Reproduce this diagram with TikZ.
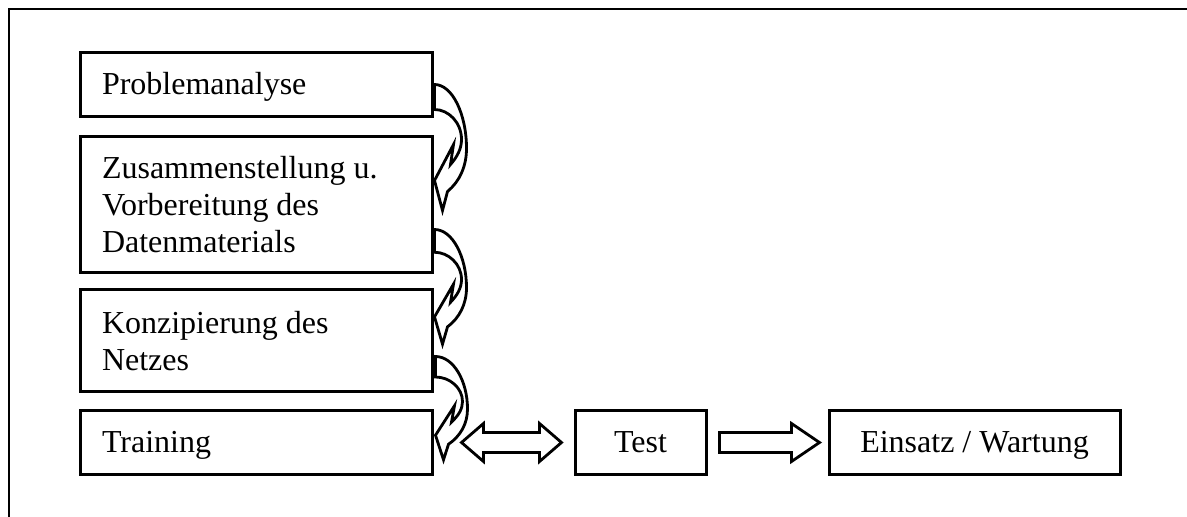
\documentclass[tikz,border=0pt]{standalone}
\usepackage{fontspec}
\setmainfont{Liberation Serif}
\usetikzlibrary{calc}

\begin{document}
\begin{tikzpicture}[x=0.5pt, y=-0.5pt,
    phase/.style={draw, line width=1.5pt, font=\fontsize{16}{18.5}\selectfont},
    leftphase/.style={phase, inner xsep=11pt, text width=154pt, align=flush left},
    oneline/.style={text height=11.5pt, text depth=1.5pt},
    blockarrow/.style={draw, fill=white, line width=1.4pt, line join=miter},
    bend/.pic={
        \draw[blockarrow] (0,0) .. controls (18,0) and (32,30) .. (32,64)
            .. controls (32,82) and (25,97) .. (13,107)
            -- (8,126) -- (0,96) -- (19,60) -- (16,80)
            .. controls (23,72) and (27,64) .. (27,55)
            .. controls (27,38) and (14,25) .. (0,25) -- cycle;
    }]
    \useasboundingbox (0,0) rectangle (1187,517);
    \draw[line width=0.75pt] (9,530) -- (9,9) -- (1200,9);

    \node[leftphase, oneline, minimum height=32pt] (prob)  at (256,85)    {Problemanalyse};
    \node[leftphase, minimum height=68pt]          (daten) at (256,205)   {Zusammenstellung u.\\Vorbereitung des\\Datenmaterials};
    \node[leftphase, minimum height=51pt]          (netz)  at (256,341)   {Konzipierung des\\Netzes};
    \node[leftphase, oneline, minimum height=31.5pt] (train) at (256,442.5) {Training};
    \node[phase, oneline, minimum width=65.5pt, minimum height=31.5pt]  (test)    at (640.5,442.5) {Test};
    \node[phase, oneline, minimum width=145.5pt, minimum height=31.5pt] (einsatz) at (974.5,442.5) {Einsatz / Wartung};

    \pic at ($(prob.south east)+(1,-34)$) {bend};
    \pic[yscale=0.91] at ($(daten.south east)+(1,-45)$) {bend};
    \pic[yscale=0.82] at ($(netz.south east)+(2,-37)$) {bend};

    \draw[blockarrow] ($(train.east)+(28,0)$) -- ++(22,-19) -- ++(0,9) -- ++(56,0)
        -- ++(0,-9) -- ++(22,19) -- ++(-22,19) -- ++(0,-9) -- ++(-56,0) -- ++(0,9) -- cycle;
    \draw[blockarrow] ($(test.east)+(12,0)$) -- ++(0,-10) -- ++(72,0) -- ++(0,-9)
        -- ++(28,19) -- ++(-28,19) -- ++(0,-9) -- ++(-72,0) -- cycle;

\end{tikzpicture}
\end{document}
